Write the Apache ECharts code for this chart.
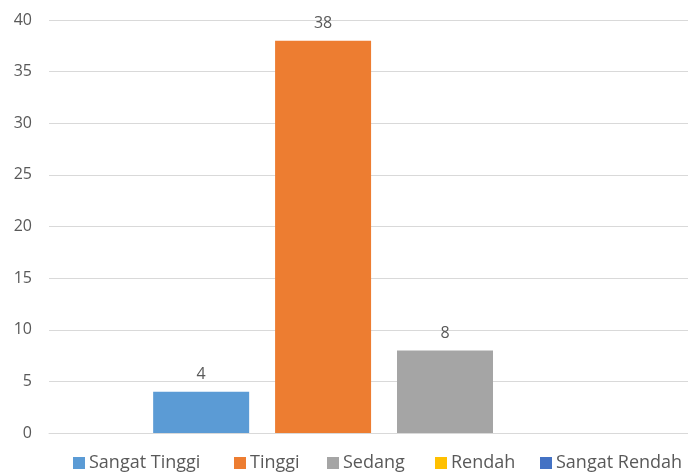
<!DOCTYPE html>
<html>
<head>
<meta charset="utf-8">
<script src="https://cdn.jsdelivr.net/npm/echarts@6/dist/echarts.min.js"></script>
<style>html,body{margin:0;padding:0;background:#fff;overflow:hidden;width:688px;height:472px;}#c{width:841px;height:472px;}</style>
</head>
<body>
<div id="c"></div>
<script>
const categories = ['Kategori'];
const seriesNames = ['Sangat Tinggi', 'Tinggi', 'Sedang', 'Rendah', 'Sangat Rendah'];
const seriesValues = [4, 38, 8, 0, 0];
const seriesColors = ['#5B9BD5', '#ED7D31', '#A5A5A5', '#FFC000', '#4472C4'];
const yTicks = [0, 5, 10, 15, 20, 25, 30, 35, 40];
const legendLefts = [73, 234, 327, 435, 540];

const FONT = '"Open Sans", "Liberation Sans", sans-serif';
const chart = echarts.init(document.getElementById('c'), null, {renderer: 'canvas'});
chart.setOption({
  animation: false,
  backgroundColor: '#fff',
  grid: {left: 49, right: 0, top: 20, bottom: 39, containLabel: false},
  legend: seriesNames.map((n, i) => ({
    data: [n],
    top: 454,
    left: legendLefts[i],
    padding: 0,
    itemWidth: 12,
    itemHeight: 12,
    itemGap: 0,
    icon: 'rect',
    textStyle: {fontFamily: FONT, fontSize: 18, color: '#595959', padding: [0, 0, 0, -1]}
  })),
  xAxis: {
    type: 'category',
    data: categories,
    axisLine: {lineStyle: {color: '#D9D9D9'}},
    axisTick: {show: false},
    axisLabel: {show: false}
  },
  yAxis: {
    type: 'value',
    min: yTicks[0],
    max: yTicks[yTicks.length - 1],
    interval: 5,
    axisLine: {show: false},
    axisTick: {show: false},
    axisLabel: {margin: 17, fontFamily: FONT, fontSize: 16, color: '#595959'},
    splitLine: {lineStyle: {color: '#D9D9D9', width: 1}}
  },
  series: seriesNames.map((name, i) => ({
    name: name,
    type: 'bar',
    data: [seriesValues[i]],
    barWidth: 96,
    barGap: '27%',
    itemStyle: {color: seriesColors[i]},
    label: {
      show: seriesValues[i] > 0,
      position: 'top',
      distance: 9,
      fontFamily: FONT,
      fontSize: 16,
      color: '#595959'
    }
  }))
});
</script>
</body>
</html>
